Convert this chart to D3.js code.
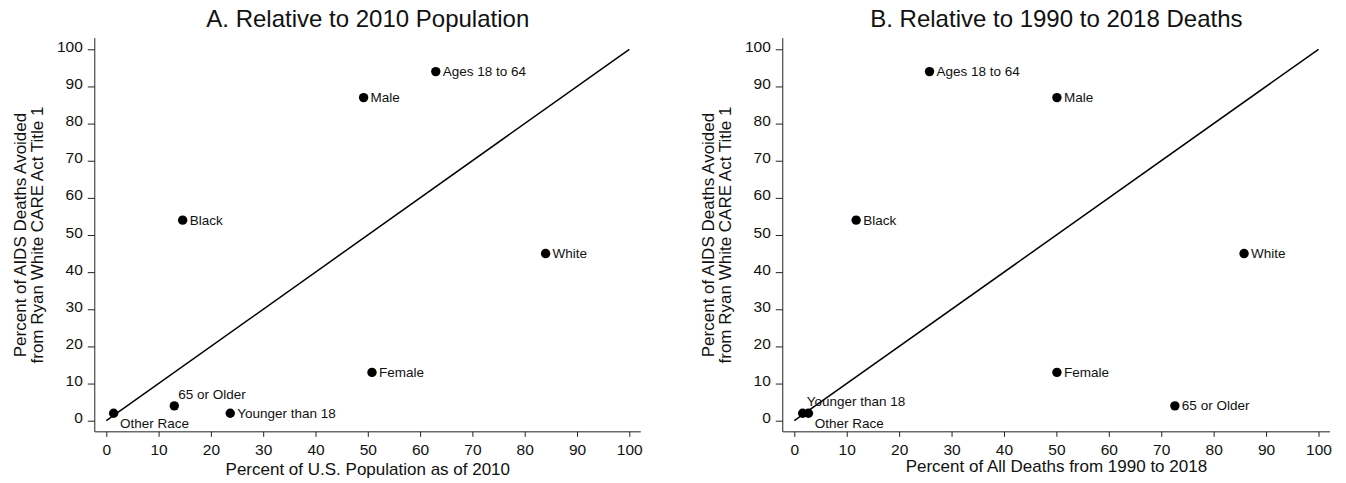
<!DOCTYPE html>
<html>
<head>
<meta charset="utf-8">
<script src="https://cdn.jsdelivr.net/npm/d3@7"></script>
<style>
  html, body { margin: 0; padding: 0; background: #fff; }
  svg { display: block; font-family: "Liberation Sans", Arial, sans-serif; }
</style>
</head>
<body>
<svg id="chart" width="1346" height="483"></svg>
<script>
// ---- data ----
const categories = ["Ages 18 to 64", "Male", "Black", "White", "Female", "65 or Older", "Younger than 18", "Other Race"];
const deathsAvoided = [94, 87, 54, 45, 13, 4, 2, 2];              // y, both panels
const pctPopulation2010 = [63, 49.2, 14.6, 84, 50.8, 13, 23.7, 1.4]; // x, panel A
const pctDeaths1990to2018 = [25.8, 50.1, 11.8, 85.8, 50.1, 72.6, 1.6, 2.7]; // x, panel B
const labelPosA = ["right", "right", "right", "right", "right", "top", "right", "bottomright"];
const labelPosB = ["right", "right", "right", "right", "right", "right", "top", "bottomright"];
const xTicks = [0, 10, 20, 30, 40, 50, 60, 70, 80, 90, 100];
const yTicks = [0, 10, 20, 30, 40, 50, 60, 70, 80, 90, 100];
const panelTitles = ["A. Relative to 2010 Population", "B. Relative to 1990 to 2018 Deaths"];
const xTitles = ["Percent of U.S. Population as of 2010", "Percent of All Deaths from 1990 to 2018"];
const yTitleLines = ["Percent of AIDS Deaths Avoided", "from Ryan White CARE Act Title 1"];

// ---- layout ----
const svg = d3.select("#chart");
const panels = [
  { xr: [106.3, 629.3], xs: pctPopulation2010, lp: labelPosA, title: panelTitles[0], xt: xTitles[0], xtY: 474.5 },
  { xr: [794.3, 1318.5], xs: pctDeaths1990to2018, lp: labelPosB, title: panelTitles[1], xt: xTitles[1], xtY: 471.5 }
];
const yRange = [420.7, 49.3];
const offsets = {
  right: { dx: 7, dy: 4.5 },
  top: { dx: 4, dy: -7.2 },
  bottomright: { dx: 6.3, dy: 14.3 }
};

panels.forEach(p => {
  const x = d3.scaleLinear().domain([0, 100]).range(p.xr);
  const y = d3.scaleLinear().domain([0, 100]).range(yRange);
  const axisX = x(-2.2);
  const axisY = y(-3);
  const g = svg.append("g");

  // axis lines
  g.append("line").attr("x1", axisX).attr("x2", axisX).attr("y1", y(103)).attr("y2", axisY)
    .attr("stroke", "#222").attr("stroke-width", 1);
  g.append("line").attr("x1", axisX).attr("x2", x(102.2)).attr("y1", axisY).attr("y2", axisY)
    .attr("stroke", "#222").attr("stroke-width", 1);

  // y axis
  const ya = g.append("g").attr("transform", `translate(${axisX},0)`)
    .call(d3.axisLeft(y).tickValues(yTicks).tickSize(7).tickPadding(5).tickFormat(d3.format("d")));
  ya.select(".domain").remove();
  ya.selectAll("line").attr("stroke", "#222");
  ya.selectAll("text").attr("font-size", 15.5).attr("fill", "#111").attr("dy", "0.13em")
    .attr("font-family", "Liberation Sans, Arial, sans-serif");

  // x axis
  const xa = g.append("g").attr("transform", `translate(0,${axisY})`)
    .call(d3.axisBottom(x).tickValues(xTicks).tickSize(5).tickPadding(7).tickFormat(d3.format("d")));
  xa.select(".domain").remove();
  xa.selectAll("line").attr("stroke", "#222");
  xa.selectAll("text").attr("font-size", 15.5).attr("fill", "#111")
    .attr("font-family", "Liberation Sans, Arial, sans-serif");

  // diagonal reference line
  g.append("line").attr("x1", x(0)).attr("y1", y(0)).attr("x2", x(100)).attr("y2", y(100))
    .attr("stroke", "#000").attr("stroke-width", 1.5);

  // points
  const pts = categories.map((c, i) => ({ c, xv: p.xs[i], yv: deathsAvoided[i], pos: p.lp[i] }));
  g.selectAll("circle.pt").data(pts).enter().append("circle").attr("class", "pt")
    .attr("cx", d => x(d.xv)).attr("cy", d => y(d.yv)).attr("r", 4.7).attr("fill", "#000");
  g.selectAll("text.lbl").data(pts).enter().append("text").attr("class", "lbl")
    .attr("x", d => x(d.xv) + offsets[d.pos].dx)
    .attr("y", d => y(d.yv) + offsets[d.pos].dy)
    .attr("font-size", 13.5).attr("fill", "#111").text(d => d.c);

  // titles
  const cx = (axisX + x(102.2)) / 2;
  g.append("text").attr("x", cx).attr("y", 26.7).attr("text-anchor", "middle")
    .attr("font-size", 24).attr("fill", "#111").text(p.title);
  g.append("text").attr("x", cx).attr("y", p.xtY).attr("text-anchor", "middle")
    .attr("font-size", 17).attr("fill", "#111").text(p.xt);
  const cy = (y(0) + y(100)) / 2;
  yTitleLines.forEach((t, i) => {
    g.append("text")
      .attr("transform", `translate(${axisX - 69 + i * 17},${cy}) rotate(-90)`)
      .attr("text-anchor", "middle").attr("font-size", 17).attr("fill", "#111").text(t);
  });
});
</script>
</body>
</html>
